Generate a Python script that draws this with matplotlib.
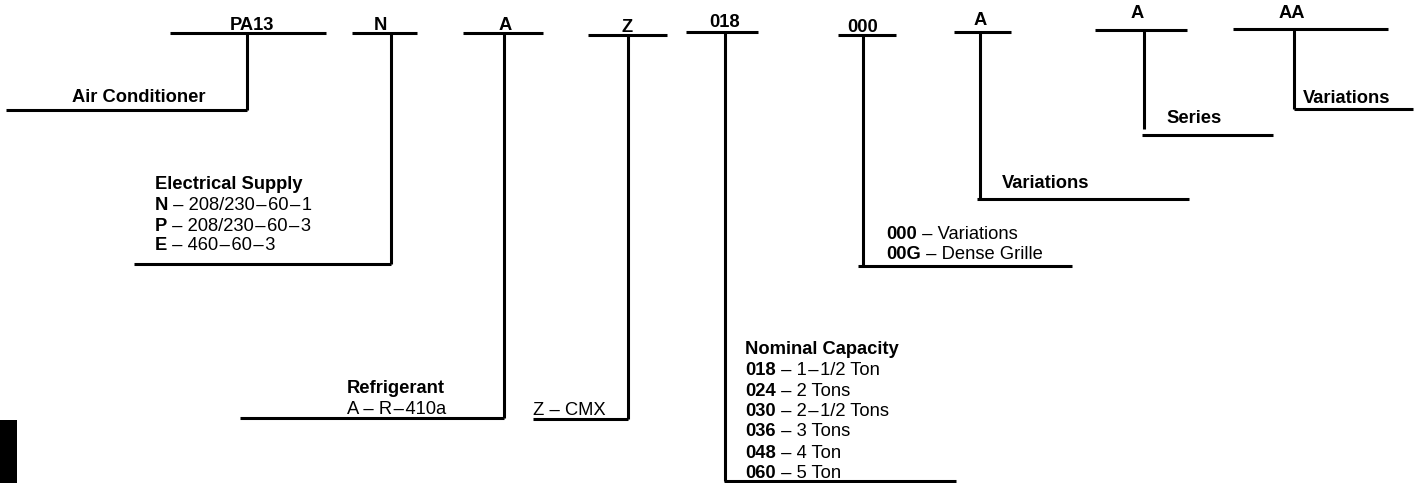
import matplotlib
matplotlib.use("Agg")
import matplotlib.pyplot as plt

plt.rcParams['font.family'] = ['Liberation Sans', 'DejaVu Sans']

W, H = 1419, 483

# code segments of the model number (left to right)
codes = ["PA13", "N", "A", "Z", "018", "000", "A", "A", "AA"]
code_x = [252, 380, 505, 627, 725, 863, 980, 1137, 1292]
code_y = [30, 30, 30, 32, 27, 32, 25, 18, 18]
top_y = [33, 33, 33, 35, 32, 35, 32, 30, 29]
top_x0 = [170, 352, 463, 588, 686, 838, 954, 1095, 1233]
top_x1 = [326, 417, 543, 667, 758, 896, 1011, 1187, 1388]
stem_x = [247, 391, 504, 628, 725, 863, 980, 1144, 1294]
stem_end = [110, 264, 418, 419, 481, 266, 199, 129, 109]
foot_y = [110, 264, 418, 419, 481, 266, 199, 135, 109]
foot_x0 = [6, 134, 240, 533, 724, 858, 977, 1142, 1294]
foot_x1 = [247, 391, 504, 628, 956, 1072, 1189, 1273, 1413]

D = "\u200a\u2013\u200a"  # dash inside values

# descriptions: (x, baseline y, bold part, regular part)
desc_x = [72, 155, 155, 155, 155, 347, 347, 533,
          745, 745, 745, 745, 745, 745, 745,
          886, 886, 1002, 1166, 1303]
desc_y = [102, 189, 210, 231, 250, 393, 414, 415,
          354, 375, 396, 416, 436, 458, 478,
          239, 259, 188, 123, 103]
desc_bold = ["Air Conditioner", "Electrical Supply", "N", "P", "E",
             "Refrigerant", "", "",
             "Nominal Capacity", "018", "024", "030", "036", "048", "060",
             "000", "00G", "Variations", "Series", "Variations"]
desc_reg = ["", "", " \u2013 208/230" + D + "60" + D + "1", " \u2013 208/230" + D + "60" + D + "3",
            " \u2013 460" + D + "60" + D + "3",
            "", "A \u2013 R" + D + "410a", "Z \u2013 CMX",
            "", " \u2013 1" + D + "1/2 Ton", " \u2013 2 Tons", " \u2013 2" + D + "1/2 Tons",
            " \u2013 3 Tons", " \u2013 4 Ton", " \u2013 5 Ton",
            " \u2013 Variations", " \u2013 Dense Grille", "", "", ""]

fig = plt.figure(figsize=(W / 100, H / 100), dpi=100)
ax = fig.add_axes([0, 0, 1, 1])
ax.set_xlim(0, W)
ax.set_ylim(H, 0)
ax.axis('off')

fs = 13.2
lw = 2.2
for i in range(len(codes)):
    ax.plot([top_x0[i], top_x1[i]], [top_y[i], top_y[i]], color='black', lw=lw, solid_capstyle='butt')
    ax.plot([stem_x[i], stem_x[i]], [top_y[i], stem_end[i]], color='black', lw=lw, solid_capstyle='butt')
    ax.plot([foot_x0[i], foot_x1[i]], [foot_y[i], foot_y[i]], color='black', lw=lw, solid_capstyle='butt')
    ax.text(code_x[i], code_y[i], codes[i], ha='center', va='baseline', fontsize=fs, fontweight='bold')

for x, y, b, r in zip(desc_x, desc_y, desc_bold, desc_reg):
    if b:
        t = ax.text(x, y, b, ha='left', va='baseline', fontsize=fs, fontweight='bold')
        if r:
            ax.annotate(r, xy=(1, 0), xycoords=t, ha='left', va='bottom', fontsize=fs)
    else:
        ax.text(x, y, r, ha='left', va='baseline', fontsize=fs)

# black tab at lower left edge
ax.add_patch(plt.Rectangle((0, 420), 17, H - 420, color='black', lw=0))

fig.savefig('out.png', dpi=100)
